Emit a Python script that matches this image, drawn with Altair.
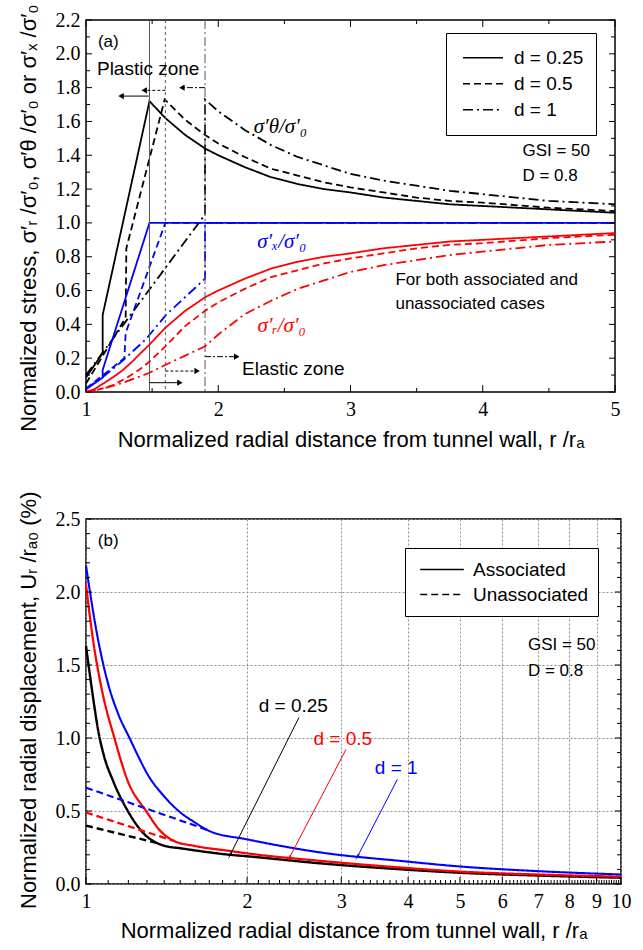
import math
import altair as alt
import pandas as pd

FONT = "Liberation Sans"
SERIF = "Liberation Serif"
WA, HA = 529, 372
WB, HB = 535, 365

# ---------------- panel (a): normalized stresses ----------------
# sigma_theta / sigma_0
th025_r = [1.00, 1.126, 1.126, 1.48, 1.6, 1.75, 1.9, 2.0, 2.2, 2.4, 2.6, 2.8, 3.0, 3.25, 3.5, 3.75, 4.0, 4.5, 5.0]
th025_s = [0.085, 0.23, 0.455, 1.72, 1.62, 1.52, 1.44, 1.40, 1.33, 1.27, 1.23, 1.20, 1.18, 1.15, 1.13, 1.11, 1.10, 1.08, 1.06]
th05_r = [1.00, 1.30, 1.305, 1.595, 1.75, 1.9, 2.0, 2.2, 2.4, 2.6, 2.8, 3.0, 3.25, 3.5, 3.75, 4.0, 4.5, 5.0]
th05_s = [0.05, 0.44, 0.85, 1.73, 1.61, 1.52, 1.47, 1.39, 1.32, 1.28, 1.24, 1.21, 1.18, 1.15, 1.13, 1.12, 1.09, 1.07]
th1_r = [1.00, 1.9, 1.9, 2.0, 2.2, 2.4, 2.6, 2.8, 3.0, 3.25, 3.5, 3.75, 4.0, 4.5, 5.0]
th1_s = [0.10, 1.05, 1.73, 1.66, 1.55, 1.46, 1.39, 1.34, 1.29, 1.25, 1.22, 1.19, 1.17, 1.13, 1.11]
# sigma_x / sigma_0
sx025_r = [1.00, 1.126, 1.126, 1.48, 5.0]
sx025_s = [0.016, 0.085, 0.13, 1.0, 1.0]
sx05_r = [1.00, 1.29, 1.30, 1.60, 5.0]
sx05_s = [0.02, 0.20, 0.35, 1.0, 1.0]
sx1_r = [1.00, 1.13, 1.27, 1.45, 1.61, 1.9, 1.9, 5.0]
sx1_s = [0.02, 0.09, 0.18, 0.31, 0.46, 0.67, 1.0, 1.0]
# sigma_r / sigma_0
sr025_r = [1.0, 1.06, 1.12, 1.2, 1.27, 1.35, 1.42, 1.48, 1.6, 1.75, 1.9, 2.0, 2.2, 2.4, 2.6, 2.8, 3.0, 3.25, 3.5, 3.75, 4.0, 4.5, 5.0]
sr025_s = [0.0, 0.015, 0.045, 0.085, 0.124, 0.18, 0.235, 0.28, 0.38, 0.48, 0.56, 0.60, 0.67, 0.73, 0.77, 0.80, 0.82, 0.85, 0.87, 0.89, 0.90, 0.92, 0.94]
sr05_r = [1.0, 1.1, 1.2, 1.3, 1.4, 1.48, 1.6, 1.75, 1.9, 2.0, 2.2, 2.4, 2.6, 2.8, 3.0, 3.25, 3.5, 3.75, 4.0, 4.5, 5.0]
sr05_s = [0.0, 0.015, 0.04, 0.08, 0.13, 0.18, 0.27, 0.39, 0.48, 0.53, 0.61, 0.68, 0.72, 0.76, 0.79, 0.82, 0.85, 0.87, 0.88, 0.91, 0.93]
sr1_r = [1.0, 1.15, 1.28, 1.4, 1.48, 1.6, 1.75, 1.9, 2.0, 2.2, 2.4, 2.6, 2.8, 3.0, 3.25, 3.5, 3.75, 4.0, 4.5, 5.0]
sr1_s = [0.0, 0.025, 0.055, 0.09, 0.114, 0.16, 0.215, 0.27, 0.34, 0.46, 0.54, 0.61, 0.66, 0.71, 0.75, 0.78, 0.81, 0.83, 0.87, 0.89]

d_labels_a = ["d = 0.25", "d = 0.5", "d = 1"]
zone_bounds = [1.48, 1.6, 1.9]
plastic_arrow_from = [1.474, 1.6, 1.9]
plastic_arrow_to = [1.265, 1.44, 1.725]
plastic_arrow_y = [1.75, 1.784, 1.80]
elastic_arrow_from = [1.48, 1.6, 1.9]
elastic_arrow_to = [1.71, 1.84, 2.14]
elastic_arrow_y = [0.055, 0.124, 0.209]

ya_ticks_major = [0.0, 0.2, 0.4, 0.6, 0.8, 1.0, 1.2, 1.4, 1.6, 1.8, 2.0, 2.2]
ya_ticks_minor = [0.1, 0.3, 0.5, 0.7, 0.9, 1.1, 1.3, 1.5, 1.7, 1.9, 2.1]
xa_ticks_major = [1, 2, 3, 4, 5]
xa_ticks_minor = [1.5, 2.5, 3.5, 4.5]

# ---------------- panel (b): radial displacement ----------------
ub_blk_r = [1.0, 1.027, 1.054, 1.08, 1.124, 1.197, 1.295, 1.35, 1.40, 1.5, 1.86, 2.0, 2.77, 3.9, 5.0, 7.0, 10.0]
ub_blk_u = [1.63, 1.32, 1.05, 0.88, 0.705, 0.5, 0.33, 0.285, 0.262, 0.245, 0.20, 0.19, 0.14, 0.10, 0.077, 0.058, 0.043]
ub_red_r = [1.0, 1.03, 1.072, 1.13, 1.197, 1.295, 1.38, 1.46, 1.6, 1.86, 2.0, 2.77, 3.9, 5.0, 7.0, 10.0]
ub_red_u = [2.05, 1.68, 1.32, 1.0, 0.705, 0.5, 0.36, 0.295, 0.26, 0.226, 0.21, 0.157, 0.112, 0.085, 0.065, 0.05]
ub_blu_r = [1.0, 1.05, 1.1, 1.15, 1.206, 1.25, 1.304, 1.40, 1.49, 1.6, 1.70, 2.0, 2.77, 3.9, 5.0, 7.0, 10.0]
ub_blu_u = [2.18, 1.70, 1.37, 1.16, 1.0, 0.88, 0.75, 0.60, 0.5, 0.42, 0.363, 0.306, 0.214, 0.157, 0.12, 0.088, 0.065]
un_blk_r = [1.0, 1.35]
un_blk_u = [0.40, 0.283]
un_red_r = [1.0, 1.46]
un_red_u = [0.49, 0.295]
un_blu_r = [1.0, 1.71]
un_blu_u = [0.66, 0.363]

d_labels_b = ["d = 0.25", "d = 0.5", "d = 1"]
d_label_x = [2.44, 3.02, 3.80]
d_label_y = [1.22, 0.99, 0.795]
d_arrow_x0 = [2.50, 3.06, 3.82]
d_arrow_y0 = [1.14, 0.92, 0.717]
d_arrow_x1 = [1.86, 2.40, 3.22]
d_arrow_y1 = [0.20, 0.18, 0.19]
d_colors = ["black", "#ff0000", "#0000ff"]

yb_ticks_major = [0.0, 0.5, 1.0, 1.5, 2.0, 2.5]
yb_ticks_minor = [v / 10 for v in range(0, 26) if v % 5 != 0]
xb_ticks_major = [1, 2, 3, 4, 5, 6, 7, 8, 9, 10]
xb_ticks_minor = [m + k / 10 for m in range(1, 10) for k in range(1, 10)]

# ---------------- scales & axes ----------------
xs_a = alt.Scale(domain=[1, 5], nice=False, zero=False)
ys_a = alt.Scale(domain=[0, 2.2], nice=False, zero=False)
xs_b = alt.Scale(type="log", domain=[1, 10], nice=False)
ys_b = alt.Scale(domain=[0, 2.5], nice=False, zero=False)

ax_xa = alt.Axis(values=xa_ticks_major, format="d", labelFont=SERIF, labelFontSize=20, labelColor="black",
                 tickSize=0, domain=False, grid=False, labelPadding=7, labelFlush=False, labelOverlap=False,
                 title="Normalized radial distance from tunnel wall, r /rₐ", titleFont=FONT, titleFontSize=22,
                 titleFontWeight="normal", titleColor="black", titleY=37, titleBaseline="top")
ax_ya = alt.Axis(values=ya_ticks_major, format=".1f", labelFont=SERIF, labelFontSize=20, labelColor="black",
                 tickSize=0, domain=False, grid=False, labelPadding=6, labelFlush=False, labelOverlap=False,
                 title="Normalized stress,  σ′ᵣ /σ′₀,  σ′θ /σ′₀  or  σ′ₓ /σ′₀", titleFont=FONT, titleFontSize=22,
                 titleFontWeight="normal", titleColor="black", titleX=-58, titleY=-16, titleAngle=270,
                 titleAlign="right", titleBaseline="middle")
ax_xb = alt.Axis(values=xb_ticks_major, format="d", labelFont=SERIF, labelFontSize=20, labelColor="black",
                 tickSize=0, domain=False, grid=True, gridDash=[2, 2], gridColor="#8c8c8c", gridWidth=1,
                 labelPadding=7, labelFlush=False, labelOverlap=False,
                 title="Normalized radial distance from tunnel wall,  r /rₐ", titleFont=FONT, titleFontSize=22,
                 titleFontWeight="normal", titleColor="black", titleY=36, titleBaseline="top")
ax_yb = alt.Axis(values=yb_ticks_major, format=".1f", labelFont=SERIF, labelFontSize=20, labelColor="black",
                 tickSize=0, domain=False, grid=True, gridDash=[2, 2], gridColor="#8c8c8c", gridWidth=1,
                 labelPadding=6, labelFlush=False, labelOverlap=False,
                 title="Normalized radial displacement,  Uᵣ /rₐ₀  (%)", titleFont=FONT, titleFontSize=22,
                 titleFontWeight="normal", titleColor="black", titleX=-58, titleY=-28, titleAngle=270,
                 titleAlign="right", titleBaseline="middle")

PANEL = {
    "a": dict(xs=xs_a, ys=ys_a, ax=ax_xa, ay=ax_ya, W=WA, H=HA),
    "b": dict(xs=xs_b, ys=ys_b, ax=ax_xb, ay=ax_yb, W=WB, H=HB),
}


def X(p, f):
    return alt.X(f"{f}:Q", scale=PANEL[p]["xs"], axis=PANEL[p]["ax"])


def Y(p, f):
    return alt.Y(f"{f}:Q", scale=PANEL[p]["ys"], axis=PANEL[p]["ay"])


def yticks(p, vals, length, side):
    W = PANEL[p]["W"]
    df = pd.DataFrame({"v": vals})
    x0, x1 = (0, length) if side == "left" else (W - length, W)
    return alt.Chart(df).mark_rule(color="black", strokeWidth=1).encode(
        y=Y(p, "v"), x=alt.value(x0), x2=alt.value(x1))


def xticks(p, vals, length, side):
    H = PANEL[p]["H"]
    df = pd.DataFrame({"v": vals})
    y0, y1 = (H - length, H) if side == "bottom" else (0, length)
    return alt.Chart(df).mark_rule(color="black", strokeWidth=1).encode(
        x=X(p, "v"), y=alt.value(y0), y2=alt.value(y1))


def label(p, xs, ys, texts, **kw):
    df = pd.DataFrame({"px": xs, "py": ys, "t": texts})
    return alt.Chart(df).mark_text(**kw).encode(x=X(p, "px"), y=Y(p, "py"), text="t:N")


# ---------------- panel (a) ----------------
def frame(r, s, comp, dlab):
    return pd.DataFrame({"r": r, "s": s, "comp": comp, "dlab": dlab, "i": list(range(len(r)))})


df_a = pd.concat([
    frame(th025_r, th025_s, "theta", d_labels_a[0]),
    frame(th05_r, th05_s, "theta", d_labels_a[1]),
    frame(th1_r, th1_s, "theta", d_labels_a[2]),
    frame(sx025_r, sx025_s, "x", d_labels_a[0]),
    frame(sx05_r, sx05_s, "x", d_labels_a[1]),
    frame(sx1_r, sx1_s, "x", d_labels_a[2]),
    frame(sr025_r, sr025_s, "r", d_labels_a[0]),
    frame(sr05_r, sr05_s, "r", d_labels_a[1]),
    frame(sr1_r, sr1_s, "r", d_labels_a[2]),
], ignore_index=True)

lines_a = alt.Chart(df_a).mark_line(strokeWidth=1.8).encode(
    x=X("a", "r"),
    y=Y("a", "s"),
    color=alt.Color("comp:N", scale=alt.Scale(domain=["theta", "x", "r"], range=["black", "#0000ff", "#ff0000"]), legend=None),
    strokeDash=alt.StrokeDash("dlab:N", scale=alt.Scale(domain=d_labels_a, range=[[1, 0], [7, 4], [10, 4, 2, 4]]),
                              legend=alt.Legend(orient="none", legendX=360, legendY=13, title=None, strokeColor="black",
                                                fillColor="white", padding=12, symbolOffset=4, labelFont=FONT,
                                                labelFontSize=19, labelColor="black", symbolType="stroke",
                                                symbolSize=1600, symbolStrokeWidth=1.5, symbolStrokeColor="black",
                                                rowPadding=0, clipHeight=25.5, labelOffset=10, cornerRadius=0)),
    order="i:Q",
)

layers_a = [lines_a]
for k, xb in enumerate(zone_bounds):
    kw = {"strokeDash": [3, 3]} if k == 1 else ({"strokeDash": [9, 3, 2, 3]} if k == 2 else {})
    layers_a.append(alt.Chart(pd.DataFrame({"v": [xb]})).mark_rule(color="#555555", strokeWidth=1, **kw).encode(
        x=X("a", "v")))
for froms, tos, ys, shape in [(plastic_arrow_from, plastic_arrow_to, plastic_arrow_y, "triangle-left"),
                              (elastic_arrow_from, elastic_arrow_to, elastic_arrow_y, "triangle-right")]:
    for k in range(3):
        df = pd.DataFrame({"x0": [froms[k]], "x1": [tos[k]], "yy": [ys[k]]})
        dkw = {"strokeDash": [3, 2]} if k == 1 else ({"strokeDash": [6, 2, 2, 2]} if k == 2 else {})
        layers_a.append(alt.Chart(df).mark_rule(color="black", strokeWidth=1, **dkw).encode(
            x=X("a", "x0"), x2="x1:Q", y=Y("a", "yy")))
        layers_a.append(alt.Chart(df).mark_point(shape=shape, filled=True, size=40, color="black", opacity=1).encode(
            x=X("a", "x1"), y=Y("a", "yy")))
layers_a.append(label("a", [1.09], [2.07], ["(a)"], font=FONT, fontSize=17, align="left", baseline="middle", color="black"))
layers_a.append(label("a", [1.083], [1.91], ["Plastic zone"], font=FONT, fontSize=19, align="left", baseline="middle", color="black"))
layers_a.append(label("a", [2.18], [0.136], ["Elastic zone"], font=FONT, fontSize=19, align="left", baseline="middle", color="black"))
layers_a.append(label("a", [3.34, 3.34], [0.66, 0.52], ["For both associated and", "unassociated cases"],
                      font=FONT, fontSize=17, align="left", baseline="middle", color="black"))
layers_a.append(label("a", [4.30, 4.30], [1.425, 1.277], ["GSI = 50", "D = 0.8"],
                      font=FONT, fontSize=17, align="left", baseline="middle", color="black"))
for t, x, y, c in [("σ′θ/σ′₀", 2.47, 1.57, "black"), ("σ′ₓ/σ′₀", 2.48, 0.89, "#0000ff"),
                   ("σ′ᵣ/σ′₀", 2.48, 0.39, "#ff0000")]:
    layers_a.append(label("a", [x], [y], [t], font=SERIF, fontSize=21, fontStyle="italic",
                          align="center", baseline="middle", color=c))
layers_a += [
    yticks("a", ya_ticks_major, 6, "left"), yticks("a", ya_ticks_minor, 4, "left"),
    yticks("a", ya_ticks_major, 6, "right"), yticks("a", ya_ticks_minor, 4, "right"),
    xticks("a", xa_ticks_major, 7, "bottom"), xticks("a", xa_ticks_minor, 4, "bottom"),
    xticks("a", xa_ticks_major, 7, "top"), xticks("a", xa_ticks_minor, 4, "top"),
]
panel_a = alt.layer(*layers_a).properties(width=WA, height=HA)

# ---------------- panel (b) ----------------
def frame_b(r, u, col, kind):
    return pd.DataFrame({"r": r, "u": u, "col": col, "kind": kind, "i": list(range(len(r)))})


df_b = pd.concat([
    frame_b(ub_blk_r, ub_blk_u, "0.25", "Associated"),
    frame_b(ub_red_r, ub_red_u, "0.5", "Associated"),
    frame_b(ub_blu_r, ub_blu_u, "1", "Associated"),
    frame_b(un_blk_r, un_blk_u, "0.25", "Unassociated"),
    frame_b(un_red_r, un_red_u, "0.5", "Unassociated"),
    frame_b(un_blu_r, un_blu_u, "1", "Unassociated"),
], ignore_index=True)

lines_b = alt.Chart(df_b).mark_line(interpolate="monotone").encode(
    x=X("b", "r"),
    y=Y("b", "u"),
    color=alt.Color("col:N", scale=alt.Scale(domain=["0.25", "0.5", "1"], range=d_colors), legend=None),
    strokeWidth=alt.StrokeWidth("col:N", scale=alt.Scale(domain=["0.25", "0.5", "1"], range=[2.4, 2.1, 1.6]), legend=None),
    strokeDash=alt.StrokeDash("kind:N", scale=alt.Scale(domain=["Associated", "Unassociated"], range=[[1, 0], [7, 4]]),
                              legend=alt.Legend(orient="none", legendX=319, legendY=29, title=None, strokeColor="black",
                                                fillColor="white", padding=9, symbolOffset=5, labelFont=FONT,
                                                labelFontSize=19, labelColor="black", symbolType="stroke",
                                                symbolSize=1900, symbolStrokeWidth=1.5, symbolStrokeColor="black",
                                                rowPadding=0, clipHeight=25, labelOffset=8, cornerRadius=0)),
    order="i:Q",
)

layers_b = [lines_b]
for k in range(3):
    df = pd.DataFrame({"x0": [d_arrow_x0[k]], "x1": [d_arrow_x1[k]], "y0": [d_arrow_y0[k]], "y1": [d_arrow_y1[k]]})
    layers_b.append(alt.Chart(df).mark_rule(color=d_colors[k], strokeWidth=1).encode(
        x=X("b", "x0"), x2="x1:Q", y=Y("b", "y0"), y2="y1:Q"))
    px0, py0 = math.log10(d_arrow_x0[k]) * WB, HB - d_arrow_y0[k] / 2.5 * HB
    px1, py1 = math.log10(d_arrow_x1[k]) * WB, HB - d_arrow_y1[k] / 2.5 * HB
    ang = math.degrees(math.atan2(px1 - px0, -(py1 - py0))) % 360
    layers_b.append(alt.Chart(df).mark_point(shape="wedge", filled=True, size=70, angle=ang, color=d_colors[k],
                                             opacity=1).encode(x=X("b", "x1"), y=Y("b", "y1")))
    layers_b.append(label("b", [d_label_x[k]], [d_label_y[k]], [d_labels_b[k]], font=FONT, fontSize=19,
                          align="center", baseline="middle", color=d_colors[k]))
layers_b.append(label("b", [1.052], [2.35], ["(b)"], font=FONT, fontSize=17, align="left", baseline="middle", color="black"))
layers_b.append(label("b", [6.70, 6.70], [1.637, 1.459], ["GSI = 50", "D = 0.8"],
                      font=FONT, fontSize=17, align="left", baseline="middle", color="black"))
layers_b += [
    yticks("b", yb_ticks_major, 6, "left"), yticks("b", yb_ticks_minor, 4, "left"),
    yticks("b", yb_ticks_major, 6, "right"), yticks("b", yb_ticks_minor, 4, "right"),
    xticks("b", xb_ticks_major, 7, "bottom"), xticks("b", xb_ticks_minor, 4, "bottom"),
]
panel_b = alt.layer(*layers_b).properties(width=WB, height=HB)

chart = alt.vconcat(panel_a, panel_b, spacing=127, bounds="flush").resolve_scale(
    x="independent", y="independent", color="independent", strokeDash="independent", strokeWidth="independent"
).properties(
    padding={"left": 16, "top": 3, "right": 2, "bottom": 2}, background="white"
).configure_view(stroke="black", strokeWidth=1.5)

chart.save("out.html", embed_options={"renderer": "svg", "actions": False})
